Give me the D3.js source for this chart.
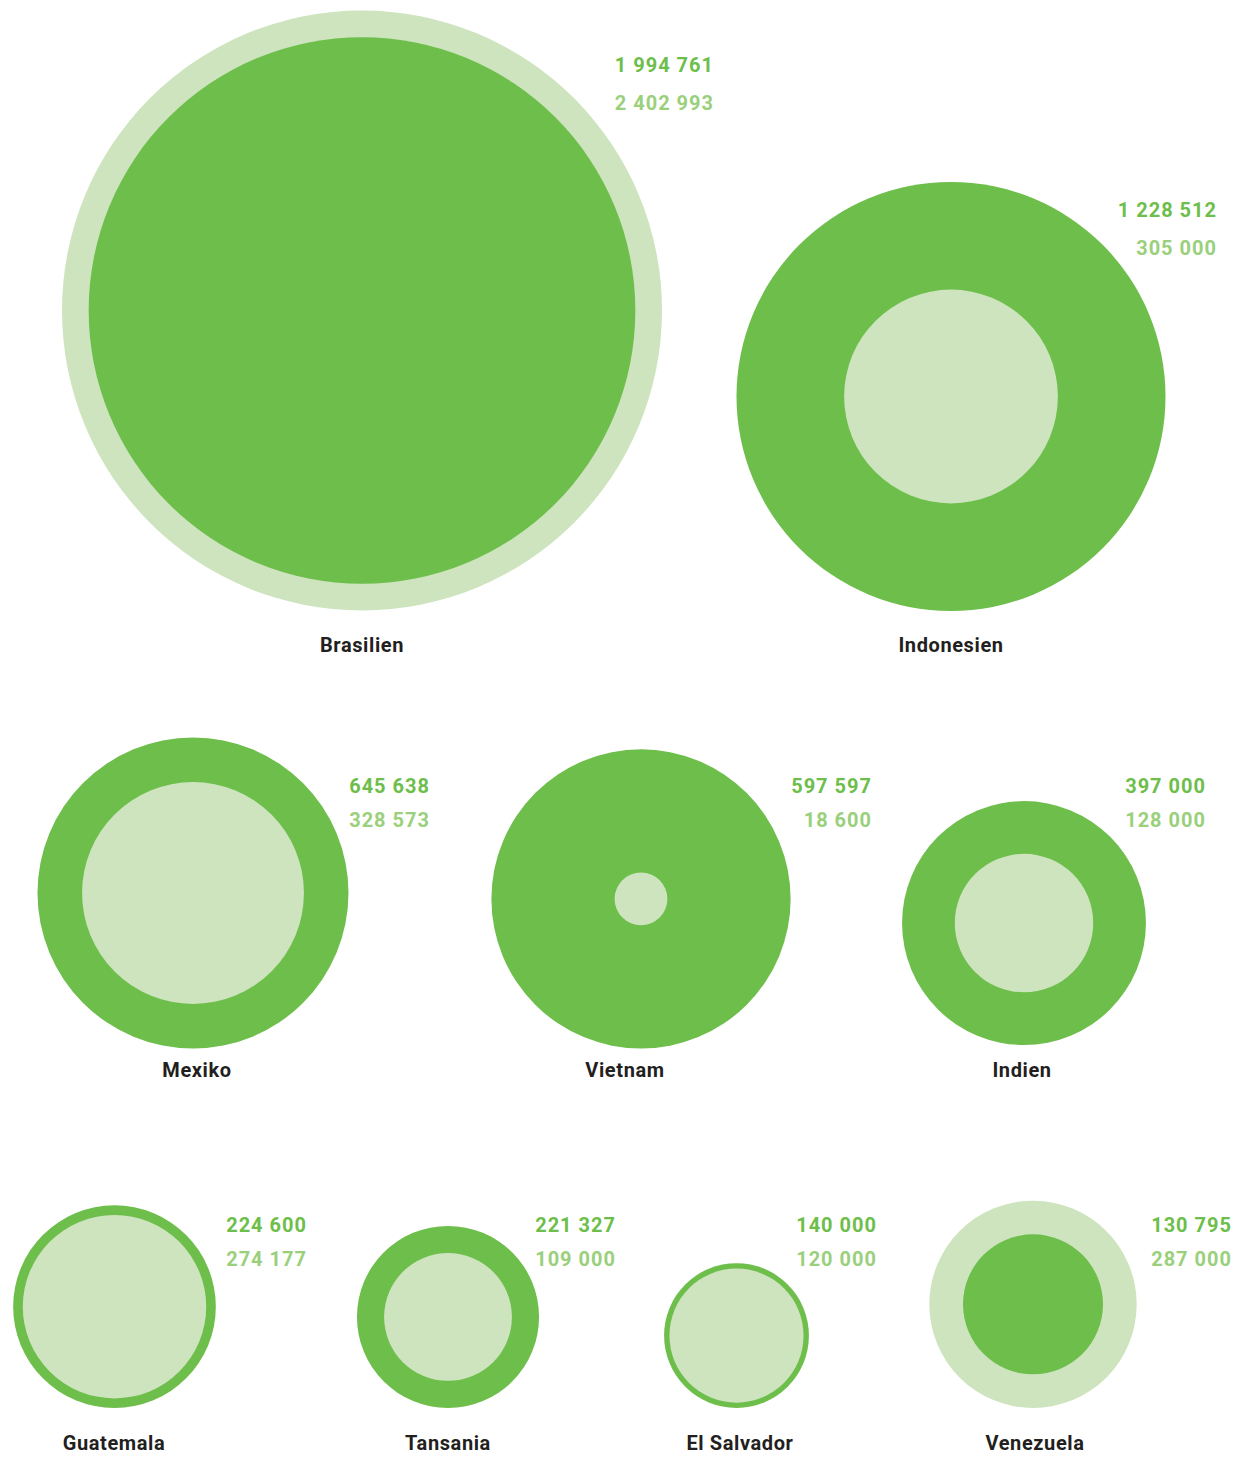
<!DOCTYPE html>
<html>
<head>
<meta charset="utf-8">
<script src="https://cdn.jsdelivr.net/npm/d3@7"></script>
<style>
	body { margin: 0; background: #fff; }
	svg text { font-family: Roboto, "Open Sans", sans-serif; font-weight: 700; }
</style>
</head>
<body>
<svg id="chart" width="1238" height="1458"></svg>
<script>
// data
const countries = ["Brasilien", "Indonesien", "Mexiko", "Vietnam", "Indien",
	"Guatemala", "Tansania", "El Salvador", "Venezuela"];
const darkValues = [1994761, 1228512, 645638, 597597, 397000, 224600, 221327, 140000, 130795];
const lightValues = [2402993, 305000, 328573, 18600, 128000, 274177, 109000, 120000, 287000];
// in the source, Guatemala's colours are drawn the other way round
const swappedColours = ["Guatemala"];

// layout (pixels): circle centre x, circle bottom, name x, right edge of the numbers, first number baseline
const layout = {
	"Brasilien":   { cx: 362,   bottom: 610.5,  nameX: 362,  numX: 714,  numY: 72 },
	"Indonesien":  { cx: 951,   bottom: 611,    nameX: 951,  numX: 1217, numY: 217 },
	"Mexiko":      { cx: 193,   bottom: 1048.5, nameX: 197,  numX: 430,  numY: 793 },
	"Vietnam":     { cx: 641,   bottom: 1048.5, nameX: 625,  numX: 872,  numY: 793 },
	"Indien":      { cx: 1024,  bottom: 1045,   nameX: 1022, numX: 1206, numY: 793 },
	"Guatemala":   { cx: 114.5, bottom: 1408,   nameX: 114,  numX: 307,  numY: 1232 },
	"Tansania":    { cx: 448,   bottom: 1408,   nameX: 448,  numX: 616,  numY: 1232 },
	"El Salvador": { cx: 736.5, bottom: 1408,   nameX: 740,  numX: 877,  numY: 1232 },
	"Venezuela":   { cx: 1033,  bottom: 1408,   nameX: 1035, numX: 1232, numY: 1232 }
};
const rowNameY = [652, 1077, 1450];
const rowOf = [0, 0, 1, 1, 1, 2, 2, 2, 2];

const DARK = "#6dbe4a";
const LIGHT = "#cde4be";
const LIGHT_TEXT = "#9ad07c";

const svg = d3.select("#chart");

// circle area follows the value
const radius = d3.scaleSqrt()
	.domain([0, d3.max(darkValues.concat(lightValues))])
	.range([0, 300]);

const fmt = v => d3.format(",")(v).replace(/,/g, " ");

const data = countries.map((name, i) => {
	const swap = swappedColours.includes(name);
	const circles = [
		{ value: darkValues[i], fill: swap ? LIGHT : DARK },
		{ value: lightValues[i], fill: swap ? DARK : LIGHT }
	].sort((a, b) => b.value - a.value);
	const rMax = radius(circles[0].value);
	return { name, i, circles, lay: layout[name], cy: layout[name].bottom - rMax };
});

const groups = svg.selectAll("g.country")
	.data(data)
	.enter()
	.append("g")
	.classed("country", true);

groups.selectAll("circle")
	.data(d => d.circles.map(c => Object.assign({ cx: d.lay.cx, cy: d.cy }, c)))
	.enter()
	.append("circle")
	.attr("cx", c => c.cx)
	.attr("cy", c => c.cy)
	.attr("r", c => radius(c.value))
	.style("fill", c => c.fill);

groups.append("text")
	.attr("x", d => d.lay.nameX)
	.attr("y", d => rowNameY[rowOf[d.i]])
	.attr("text-anchor", "middle")
	.style("font-size", "20px")
	.style("letter-spacing", "0.6px")
	.style("fill", "#231f20")
	.text(d => d.name);

groups.append("text")
	.attr("x", d => d.lay.numX)
	.attr("y", d => d.lay.numY)
	.attr("text-anchor", "end")
	.style("font-size", "20px")
	.style("letter-spacing", "1px")
	.style("fill", DARK)
	.text(d => fmt(darkValues[d.i]));

groups.append("text")
	.attr("x", d => d.lay.numX)
	.attr("y", d => d.lay.numY + (rowOf[d.i] === 0 ? 38 : 34))
	.attr("text-anchor", "end")
	.style("font-size", "20px")
	.style("letter-spacing", "1px")
	.style("fill", LIGHT_TEXT)
	.text(d => fmt(lightValues[d.i]));
</script>
</body>
</html>
